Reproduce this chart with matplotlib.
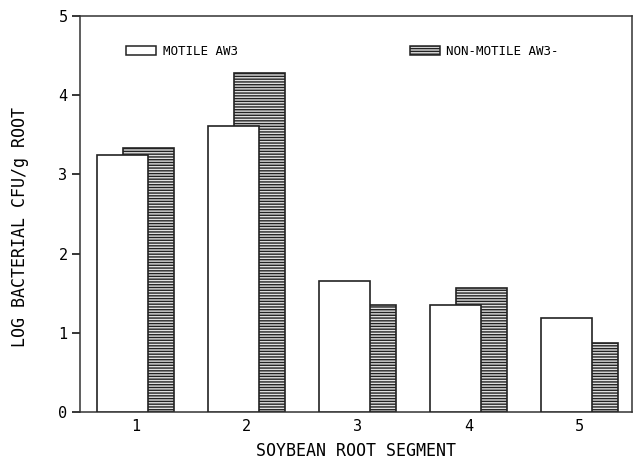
import numpy as np
import matplotlib
matplotlib.use('Agg')
import matplotlib.pyplot as plt
from matplotlib.patches import Patch

# values (log CFU/g root)
segments = ['1', '2', '3', '4', '5']
motile = [3.24, 3.61, 1.65, 1.35, 1.19]
non_motile = [3.33, 4.28, 1.35, 1.57, 0.87]
yticks = [0, 1, 2, 3, 4, 5]

plt.rcParams['font.family'] = ['DejaVu Sans Mono']
plt.rcParams['hatch.linewidth'] = 1.0
plt.rcParams['hatch.color'] = '#3a3a3a'

fig = plt.figure(figsize=(6.33, 4.65), dpi=100)
ax = fig.add_axes([0.1264, 0.114, 0.872, 0.8516])

x = np.arange(1, len(segments) + 1)
w = 0.46
off = 0.117

# hatched bars sit behind, white bars overlap them
ax.bar(x + off, non_motile, width=w, facecolor='#e0e0e0', edgecolor='#222222',
       linewidth=1.2, hatch='------', zorder=2)
ax.bar(x - off, motile, width=w, facecolor='white', edgecolor='#222222',
       linewidth=1.2, zorder=3)

ax.set_xlim(0.5, 5.47)
ax.set_ylim(0, 5)
ax.set_yticks(yticks)
ax.set_xticks(x)
ax.set_xticklabels(segments)
ax.tick_params(axis='x', length=0, pad=5, labelsize=11)
ax.tick_params(axis='y', length=6, width=1.1, pad=3, labelsize=11)
for s in ax.spines.values():
    s.set_linewidth(1.1)
    s.set_color('#333333')

ax.set_xlabel('SOYBEAN ROOT SEGMENT', fontsize=12, labelpad=6)
ax.set_ylabel('LOG BACTERIAL CFU/g ROOT', fontsize=12)
ax.yaxis.set_label_coords(-0.092, 0.467)

h1 = Patch(facecolor='white', edgecolor='#222222', linewidth=1.1)
h2 = Patch(facecolor='#e0e0e0', edgecolor='#222222', linewidth=1.1, hatch='------')
leg1 = ax.legend([h1], ['MOTILE AW3'], loc='center left', bbox_to_anchor=(0.075, 0.91),
                 frameon=False, fontsize=9, handlelength=2.4, handleheight=0.75,
                 handletextpad=0.5, borderaxespad=0)
ax.add_artist(leg1)
ax.legend([h2], ['NON-MOTILE AW3-'], loc='center left', bbox_to_anchor=(0.589, 0.91),
          frameon=False, fontsize=9, handlelength=2.4, handleheight=0.75,
          handletextpad=0.5, borderaxespad=0)

fig.savefig('out.png', dpi=100)
